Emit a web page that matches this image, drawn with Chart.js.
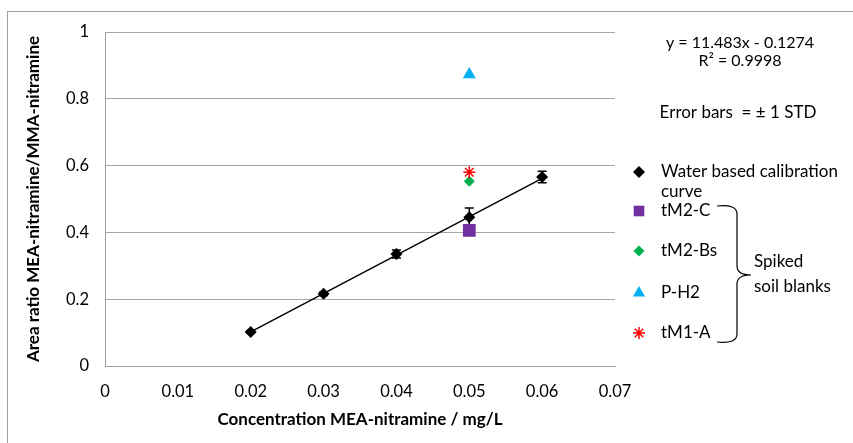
<!DOCTYPE html>
<html><head><meta charset="utf-8">
<script src="https://cdn.jsdelivr.net/npm/chart.js@4/dist/chart.umd.min.js"></script>
<style>html,body{margin:0;padding:0;background:#fff;}#wrap{width:853px;height:443px;position:relative;}</style>
</head><body><div id="wrap"><canvas id="c" width="853" height="443"></canvas></div>
<script>
// Data
const xTicks = [0, 0.01, 0.02, 0.03, 0.04, 0.05, 0.06, 0.07];
const yTicks = [0, 0.2, 0.4, 0.6, 0.8, 1];
const calX = [0.02, 0.03, 0.04, 0.05, 0.06];
const calY = [0.102, 0.216, 0.335, 0.445, 0.566];
const calErr = [0.004, 0.005, 0.012, 0.028, 0.017];
const trendX = [0.02, 0.06];
const trendY = [0.102, 0.562];
const sampleNames = ['tM2-C', 'tM2-Bs', 'P-H2', 'tM1-A'];
const sampleX = [0.05, 0.05, 0.05, 0.05];
const sampleY = [0.406, 0.553, 0.873, 0.580];
const eqText = ['y = 11.483x - 0.1274', 'R\u00b2 = 0.9998'];
const errText = 'Error bars  = \u00b1 1 STD';
const calName = ['Water based calibration', 'curve'];
const braceText = ['Spiked', 'soil blanks'];

const FONT = 'Lato, "Open Sans", sans-serif';
const sampleStyles = [
  {pointStyle: 'rect', radius: 9, color: '#7030a0'},
  {pointStyle: 'rectRot', radius: 5.5, color: '#00b050'},
  {pointStyle: 'triangle', radius: 7.5, color: '#00b0f0'},
  {pointStyle: 'star', radius: 6, color: '#ff0000'}
];

const datasets = [
  {label: 'trend', data: trendX.map((x, i) => ({x, y: trendY[i]})), showLine: true,
   borderColor: '#000', borderWidth: 1.5, pointRadius: 0, order: 6},
  {label: calName.join(' '), data: calX.map((x, i) => ({x, y: calY[i]})), showLine: false,
   pointStyle: 'rectRot', pointRadius: 6, backgroundColor: '#000', borderColor: '#000', borderWidth: 0, order: 5}
];
sampleNames.forEach((n, i) => {
  const s = sampleStyles[i];
  datasets.push({label: n, data: [{x: sampleX[i], y: sampleY[i]}], showLine: false,
    pointStyle: s.pointStyle, pointRadius: s.radius, backgroundColor: s.color, borderColor: s.color,
    borderWidth: s.pointStyle === 'star' ? 1.5 : 0, order: 4 - i});
});

const errPlugin = {
  id: 'err',
  beforeDatasetsDraw(chart) {
    const ctx = chart.ctx, xs = chart.scales.x, ys = chart.scales.y;
    ctx.save();
    ctx.strokeStyle = '#000'; ctx.lineWidth = 1.5;
    calX.forEach((x, i) => {
      const px = xs.getPixelForValue(x);
      const t = ys.getPixelForValue(calY[i] + calErr[i]);
      const b = ys.getPixelForValue(calY[i] - calErr[i]);
      ctx.beginPath();
      ctx.moveTo(px, t); ctx.lineTo(px, b);
      ctx.moveTo(px - 4.5, t); ctx.lineTo(px + 4.5, t);
      ctx.moveTo(px - 4.5, b); ctx.lineTo(px + 4.5, b);
      ctx.stroke();
    });
    ctx.restore();
  }
};

const decoPlugin = {
  id: 'deco',
  beforeDraw(chart) {
    const ctx = chart.ctx;
    ctx.save();
    ctx.strokeStyle = '#a0a0a0'; ctx.lineWidth = 1;
    ctx.strokeRect(7.5, 11.5, 1000, 1000);
    ctx.restore();
  },
  afterDraw(chart) {
    const ctx = chart.ctx;
    ctx.save();
    ctx.fillStyle = '#000';
    ctx.font = '16px ' + FONT;
    ctx.textAlign = 'center'; ctx.textBaseline = 'middle';
    ctx.fillText(eqText[0], 740, 43);
    ctx.fillText(eqText[1], 740, 61);
    ctx.font = '17px ' + FONT;
    ctx.fillText(errText, 738, 113);
    // legend
    ctx.textAlign = 'left';
    const mx = 639, tx = 661;
    const rows = [172, 211, 251, 293, 333];
    ctx.fillStyle = '#000'; ctx.strokeStyle = '#000';
    Chart.helpers.drawPoint(ctx, {pointStyle: 'rectRot', radius: 6, rotation: 0, borderWidth: 0}, mx, rows[0]);
    ctx.fillStyle = '#000';
    ctx.fillText(calName[0], tx, rows[0]);
    ctx.fillText(calName[1], tx, 192);
    sampleNames.forEach((n, i) => {
      const s = sampleStyles[i];
      ctx.fillStyle = s.color; ctx.strokeStyle = s.color; ctx.lineWidth = 1.5;
      let r = s.radius;
      if (s.pointStyle === 'rect') r = 7.5;
      if (s.pointStyle === 'triangle') r = 7;
      Chart.helpers.drawPoint(ctx, {pointStyle: s.pointStyle, radius: r, rotation: 0,
        borderWidth: s.pointStyle === 'star' ? 1.5 : 0}, mx, rows[i + 1]);
      ctx.fillStyle = '#000';
      ctx.fillText(n, tx, rows[i + 1]);
    });
    // brace
    ctx.strokeStyle = '#000'; ctx.lineWidth = 1.2;
    ctx.beginPath();
    ctx.moveTo(717, 206);
    ctx.quadraticCurveTo(737, 204, 737, 214);
    ctx.lineTo(737, 266);
    ctx.quadraticCurveTo(737, 275, 751, 275);
    ctx.moveTo(737, 284);
    ctx.quadraticCurveTo(737, 275, 751, 275);
    ctx.moveTo(737, 284);
    ctx.lineTo(737, 334);
    ctx.quadraticCurveTo(737, 344, 717, 342);
    ctx.stroke();
    ctx.fillStyle = '#000';
    ctx.fillText(braceText[0], 754, 262);
    ctx.fillText(braceText[1], 754, 287);
    ctx.restore();
  }
};

new Chart(document.getElementById('c'), {
  type: 'scatter',
  data: {datasets},
  options: {
    responsive: false, animation: false,
    layout: {padding: {left: 0, top: 32, right: 238, bottom: 0}},
    plugins: {legend: {display: false}, tooltip: {enabled: false}},
    scales: {
      x: {
        type: 'linear', min: 0, max: 0.07,
        afterBuildTicks(s) { s.ticks = xTicks.map(v => ({value: v})); },
        afterFit(s) { s.height = 77; },
        grid: {display: false, drawTicks: false},
        border: {display: true, color: '#a0a0a0', width: 1},
        ticks: {padding: 16, color: '#000', font: {family: FONT, size: 16.5},
          callback: v => String(v)},
        title: {display: true, text: 'Concentration MEA-nitramine / mg/L', color: '#000',
          font: {family: FONT, size: 17, weight: 'bold'}, padding: {top: 0, bottom: 13}}
      },
      y: {
        type: 'linear', min: 0, max: 1,
        afterBuildTicks(s) { s.ticks = yTicks.map(v => ({value: v})); },
        afterFit(s) { s.width = 105; },
        grid: {display: true, color: '#a6a6a6', lineWidth: 1, drawTicks: false},
        border: {display: true, color: '#a0a0a0', width: 1},
        ticks: {padding: 16, color: '#000', font: {family: FONT, size: 16.5},
          callback: v => String(v)},
        title: {display: true, text: 'Area ratio MEA-nitramine/MMA-nitramine', color: '#000',
          font: {family: FONT, size: 17, weight: 'bold'}, padding: {top: 23, bottom: 0}}
      }
    }
  },
  plugins: [errPlugin, decoPlugin]
});
</script>
</body></html>
